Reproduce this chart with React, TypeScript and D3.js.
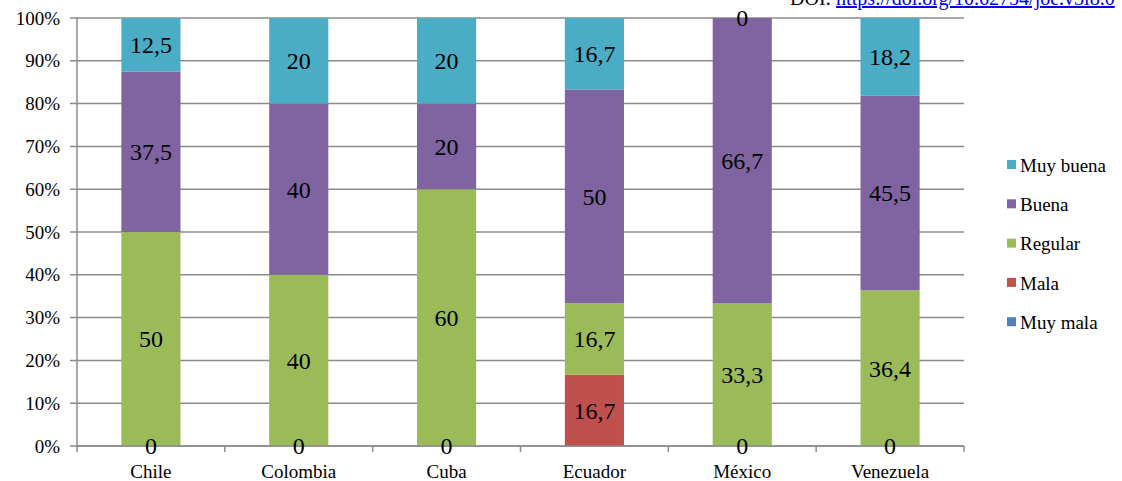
import React from "react";
import * as d3 from "d3";

// Countries along the x axis
const countries = ["Chile", "Colombia", "Cuba", "Ecuador", "México", "Venezuela"];

// Rating categories, stacked from the bottom up
const ratings = ["Muy mala", "Mala", "Regular", "Buena", "Muy buena"];

// Percentages per rating, one value per country (null = no value reported)
const muyMala: (number | null)[] = [null, null, null, null, null, null];
const mala: (number | null)[] = [0, 0, 0, 16.7, 0, 0];
const regular: (number | null)[] = [50, 40, 60, 16.7, 33.3, 36.4];
const buena: (number | null)[] = [37.5, 40, 20, 50, 66.7, 45.5];
const muyBuena: (number | null)[] = [12.5, 20, 20, 16.7, 0, 18.2];

const yTicks = [0, 10, 20, 30, 40, 50, 60, 70, 80, 90, 100];

const colors: Record<string, string> = {
  "Muy mala": "#4F81BD",
  Mala: "#C0504D",
  Regular: "#9BBB59",
  Buena: "#8064A2",
  "Muy buena": "#4BACC6",
};

const W = 1122;
const H = 481;
const M = { left: 77, right: 964, top: 18, bottom: 446 };
const FONT = "Liberation Serif, Times New Roman, DejaVu Serif, serif";
const txt = { fontFamily: FONT };

const fmt = (v: number) => String(v).replace(".", ",");

export default function App() {
  const seriesValues: Record<string, (number | null)[]> = {
    "Muy mala": muyMala,
    Mala: mala,
    Regular: regular,
    Buena: buena,
    "Muy buena": muyBuena,
  };

  const rows = countries.map((c, i) => {
    const row: Record<string, any> = { country: c };
    ratings.forEach((r) => (row[r] = seriesValues[r][i] ?? 0));
    return row;
  });

  const stack = d3.stack<any>().keys(ratings).offset(d3.stackOffsetExpand);
  const stacked = stack(rows);

  const x = d3.scaleBand<string>().domain(countries).range([M.left, M.right]).paddingInner(0.6).paddingOuter(0.3);
  const xOuter = d3.scaleBand<string>().domain(countries).range([M.left, M.right]);
  const y = d3.scaleLinear().domain([0, 1]).range([M.bottom, M.top]);

  const legendOrder = [...ratings].reverse();

  return (
    <svg
      width={W}
      height={H}
      style={{ position: "absolute", left: 0, top: 0, background: "#fff" }}
    >
      {/* DOI header */}
      <text x={790} y={5} fontSize={20} fill="#000" style={txt}>
        DOI:{" "}
        <tspan fill="#0000EE" textDecoration="underline">
          https://doi.org/10.62754/joe.v3i8.0
        </tspan>
      </text>

      {/* gridlines */}
      {yTicks.map((t) => (
        <line key={t} x1={M.left - 7} x2={M.right} y1={y(t / 100)} y2={y(t / 100)} stroke="#8C8C8C" strokeWidth={1.5} />
      ))}
      {yTicks.map((t) => (
        <text key={"l" + t} x={60} y={y(t / 100)} dy="0.35em" textAnchor="end" fontSize={19} fill="#000" style={txt}>
          {t}%
        </text>
      ))}

      {/* bars */}
      {stacked.map((s) =>
        s.map((d, i) => (
          <rect
            key={s.key + i}
            x={x(countries[i])}
            width={x.bandwidth()}
            y={y(d[1])}
            height={Math.max(0, y(d[0]) - y(d[1]))}
            fill={colors[s.key]}
          />
        ))
      )}

      {/* axes */}
      <line x1={M.left} x2={M.left} y1={M.top} y2={M.bottom} stroke="#8C8C8C" strokeWidth={1.5} />
      <line x1={M.left} x2={M.right} y1={M.bottom} y2={M.bottom} stroke="#8C8C8C" strokeWidth={1.5} />
      {[...countries.map((c) => xOuter(c) as number), M.right].map((xv, i) => (
        <line key={"xt" + i} x1={xv} x2={xv} y1={M.bottom} y2={M.bottom + 6} stroke="#8C8C8C" strokeWidth={1.5} />
      ))}

      {/* value labels */}
      {stacked.map((s) =>
        s.map((d, i) => {
          const v = seriesValues[s.key][i];
          if (v === null) return null;
          return (
            <text
              key={"v" + s.key + i}
              x={(x(countries[i]) as number) + x.bandwidth() / 2}
              y={(y(d[0]) + y(d[1])) / 2}
              dy="0.35em"
              textAnchor="middle"
              fontSize={24}
              fill="#000"
              style={txt}
            >
              {fmt(v)}
            </text>
          );
        })
      )}

      {/* category labels */}
      {countries.map((c) => (
        <text
          key={"c" + c}
          x={(x(c) as number) + x.bandwidth() / 2}
          y={M.bottom + 32}
          textAnchor="middle"
          fontSize={19}
          fill="#000"
          style={txt}
        >
          {c}
        </text>
      ))}

      {/* legend */}
      {legendOrder.map((r, i) => (
        <g key={"lg" + r} transform={`translate(1007, ${165 + i * 39.3})`}>
          <rect x={0} y={-5} width={9} height={9} fill={colors[r]} />
          <text x={13} y={0} dy="0.35em" fontSize={19} fill="#000" style={txt}>
            {r}
          </text>
        </g>
      ))}
    </svg>
  );
}
